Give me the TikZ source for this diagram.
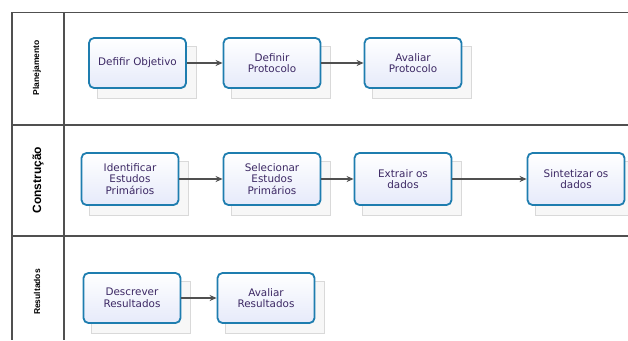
\documentclass[tikz,border=0pt]{standalone}
\usepackage{fontspec}
\setmainfont{DejaVu Sans}
\newfontfamily\lanefont{Liberation Sans}
\usetikzlibrary{arrows.meta,backgrounds}
\definecolor{boxblue}{RGB}{30,125,175}
\definecolor{boxfill}{RGB}{230,234,250}
\definecolor{txt}{RGB}{60,40,100}
\definecolor{linegray}{RGB}{80,80,80}
\tikzset{
  task/.style={draw=boxblue, line width=1.8pt, rounded corners=5pt,
    top color=white, bottom color=boxfill, minimum width=97pt, minimum height=50pt,
    align=center, text=txt, font=\fontsize{10.4}{11.7}\selectfont, inner sep=2pt},
  shadowbox/.style={draw=gray!30, fill=gray!6, line width=0.8pt},
  flow/.style={draw=linegray, line width=1.2pt, -{Stealth[length=7pt,width=6pt,fill=black]}},
  lane/.style={draw=linegray, line width=1.1pt},
  lanelabel/.style={rotate=90, font=\lanefont\bfseries, text=black}
}
\begin{document}
\begin{tikzpicture}[x=1pt,y=-1pt]
\useasboundingbox (0,0) rectangle (628,340);
% nodes
\node[task] (A) at (137.5,63) {Defifir Objetivo};
\node[task] (B) at (272,63) {Definir\\Protocolo};
\node[task] (C) at (413,63) {Avaliar\\Protocolo};
\node[task, minimum height=52pt] (D) at (130,179) {Identificar\\Estudos\\Primários};
\node[task, minimum height=52pt] (E) at (272,179) {Selecionar\\Estudos\\Primários};
\node[task, minimum height=52pt] (F) at (403,179) {Extrair os\\dados};
\node[task, minimum height=52pt] (G) at (576,179) {Sintetizar os\\dados};
\node[task] (H) at (132,298) {Descrever\\Resultados};
\node[task] (I) at (266,298) {Avaliar\\Resultados};
% lane labels
\node[lanelabel, font=\lanefont\bfseries\fontsize{8.5}{10}\selectfont] (L1) at (37,68) {Planejamento};
\node[lanelabel, font=\lanefont\bfseries\fontsize{12}{14}\selectfont] (L2) at (38,180) {Construção};
\node[lanelabel, font=\lanefont\bfseries\fontsize{8.5}{10}\selectfont] (L3) at (37,292) {Resultados};
\begin{scope}[on background layer]
  \foreach \n in {A,B,C,D,E,F,G,H,I}{
    \draw[shadowbox] ([shift={(9,9)}]\n.north west) rectangle ([shift={(9,9)}]\n.south east);
  }
  \coordinate (tl) at (12,12.5);
  \coordinate (tr) at (628,12.5);
  \coordinate (bl) at (12,340);
  \coordinate (cl) at (64,12.5);
  \coordinate (cb) at (64,340);
  \coordinate (m1l) at (12,125);
  \coordinate (m1r) at (628,125);
  \coordinate (m2l) at (12,236);
  \coordinate (m2r) at (628,236);
  \draw[lane] (tr) -- (tl) -- (bl);
  \draw[lane] (cl) -- (cb);
  \draw[lane] (m1l) -- (m1r);
  \draw[lane] (m2l) -- (m2r);
\end{scope}
% connectors
\draw[flow] (A) -- (B);
\draw[flow] (B) -- (C);
\draw[flow] (D) -- (E);
\draw[flow] (E) -- (F);
\draw[flow] (F) -- (G);
\draw[flow] (H) -- (I);
\end{tikzpicture}
\end{document}
